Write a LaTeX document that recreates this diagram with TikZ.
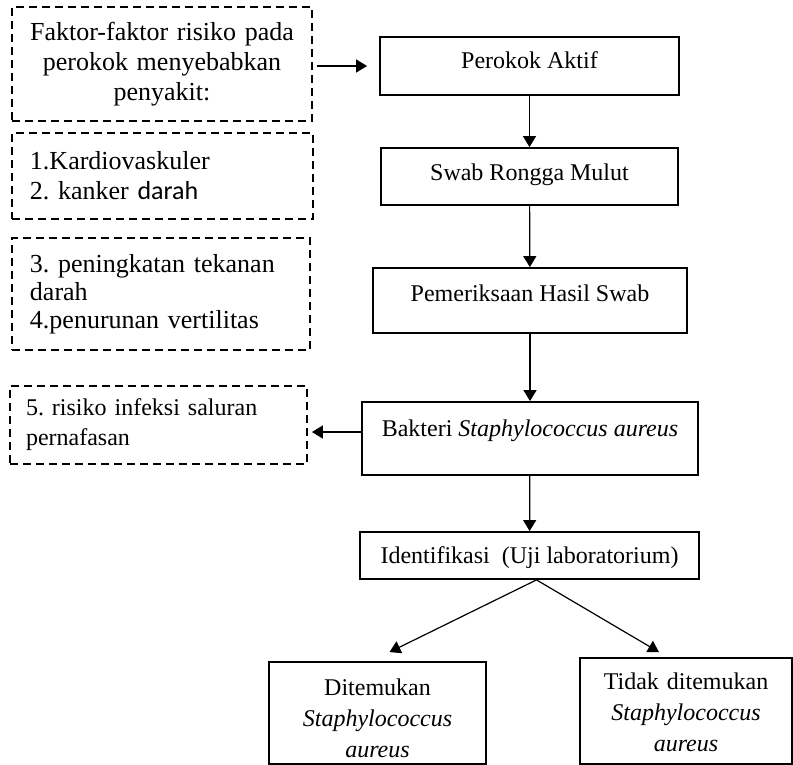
\documentclass[tikz,border=0pt]{standalone}
\usepackage{fontspec}
\setmainfont{Liberation Serif}
\newfontfamily\calfont{Carlito}
\usetikzlibrary{arrows.meta}
\frenchspacing

\begin{document}
\begin{tikzpicture}[x=0.5pt,y=-0.5pt,>={Triangle[length=5.5pt,width=6.5pt]},line width=0.6pt,
  main node/.style={rectangle,draw,line width=0.9pt,inner xsep=0pt,inner ysep=0pt,font=\fontsize{12}{15}\selectfont},
  risk node/.style={rectangle,draw,line width=0.9pt,dash pattern=on 4pt off 2.5pt,inner xsep=9pt,inner ysep=0pt,align=left,font=\fontsize{13}{15}\selectfont},
  result node/.style={main node,align=center,inner xsep=4pt,font=\fontsize{12}{15.5}\selectfont}]
  \useasboundingbox (0,0) rectangle (793,765);
  % left column, dashed
  \node[risk node, align=center, inner xsep=5pt, text width=140pt, minimum height=57pt] (faktor) at (162,64) {Faktor-faktor risiko pada\\ perokok menyebabkan\\ penyakit:};
  \node[risk node, text width=132.5pt, minimum height=43pt] (risk12) at (162.5,176) {1.Kardiovaskuler\\ 2. kanker {\calfont darah}};
  \node[risk node, text width=131pt, minimum height=56pt, font=\fontsize{13}{14}\selectfont] (risk34) at (161,294) {3. peningkatan tekanan\\ darah\\ 4.penurunan vertilitas};
  \node[risk node, inner xsep=8pt, text width=132.5pt, minimum height=39pt, font=\fontsize{12}{15}\selectfont] (risk5) at (158.5,425) {5. risiko infeksi saluran\\ pernafasan};
  % main flow
  \node[main node, minimum width=149.5pt, text height=16pt, text depth=13pt] (perokok) at (529.5,66) {Perokok Aktif};
  \node[main node, minimum width=148.5pt, text height=16.5pt, text depth=12pt] (swab) at (529.5,176.5) {Swab Rongga Mulut};
  \node[main node, minimum width=157pt, text height=16.5pt, text depth=16pt] (periksa) at (530,300.5) {Pemeriksaan Hasil Swab};
  \node[main node, minimum width=168pt, text height=17pt, text depth=19.5pt] (bakteri) at (530,438.5) {Bakteri \textit{Staphylococcus aureus}};
  \node[main node, minimum width=169.5pt, text height=15.5pt, text depth=8pt] (ident) at (529.5,555.5) {Identifikasi~ (Uji laboratorium)};
  \node[result node, text width=100.5pt, minimum height=51pt, text height=14pt] (found) at (377.5,713) {Ditemukan\\ \textit{Staphylococcus}\\ \textit{aureus}};
  \node[result node, text width=98pt, minimum height=53pt, text height=10pt] (notfound) at (686,711) {Tidak ditemukan\\ \textit{Staphylococcus}\\ \textit{aureus}};
  \path[->]
    (faktor.east |- perokok) edge[shorten <=2pt, shorten >=6pt] (perokok)
    (perokok) edge (swab)
    (swab) edge (periksa)
    (periksa) edge (bakteri)
    (bakteri) edge (ident)
    ([yshift=3.25pt]bakteri.west) edge[shorten >=2pt] ([yshift=3.25pt]bakteri.west -| risk5.east)
    ([xshift=3.5pt]ident.south) edge ([xshift=6pt,yshift=4.5pt]found.north)
    ([xshift=3.5pt]ident.south) edge ([xshift=-13.5pt,yshift=2.5pt]notfound.north);
\end{tikzpicture}
\end{document}
